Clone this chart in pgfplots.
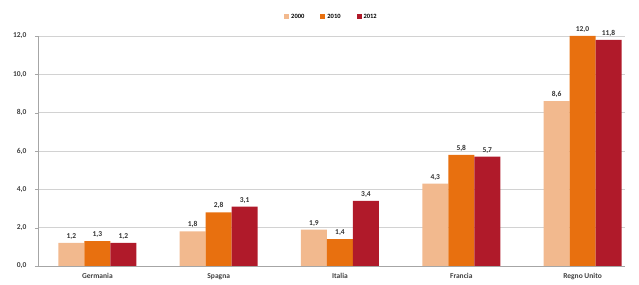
\documentclass[border=0pt]{standalone}
\usepackage{pgfplots}
\pgfplotsset{compat=1.18}
\usepackage{fontspec}
\setmainfont{Carlito}
\definecolor{cA}{HTML}{F2B98E}
\definecolor{cB}{HTML}{E8700F}
\definecolor{cC}{HTML}{B01A2A}
\begin{document}
\begin{tikzpicture}
\begin{axis}[
  name=ax,
  scale only axis, width=587pt, height=230pt,
  ybar=0pt, bar width=26pt,
  xmin=-0.49, xmax=4.35, ymin=0, ymax=12,
  xtick={0,1,2,3,4},
  xticklabels={Germania,Spagna,Italia,Francia,Regno Unito},
  ytick={0,2,4,6,8,10,12},
  axis x line*=bottom, axis y line*=left,
  x axis line style={draw=gray!70}, y axis line style={draw=gray!70},
  ymajorgrids, grid style={gray!35},
  major x tick style={draw=none},
  major y tick style={gray!70}, tick align=outside, major tick length=3pt,
  tick label style={font=\fontsize{7.5}{8}\selectfont\bfseries, text=black!75},
  yticklabel style={xshift=-5pt, /pgf/number format/.cd, fixed, fixed zerofill, precision=1, use comma},
  xticklabel style={yshift=-1pt},
  /pgf/number format/assume math mode=true,
  nodes near coords,
  nodes near coords style={font=\fontsize{7.5}{8}\selectfont\bfseries, text=black!80,
    /pgf/number format/.cd, fixed, fixed zerofill, precision=1, use comma},
  legend style={at={(0.5,1)}, anchor=south, yshift=12pt, draw=none, fill=none,
    font=\fontsize{6.5}{7}\selectfont\bfseries, legend columns=3,
    /tikz/every even column/.append style={column sep=14pt}},
  legend image code/.code={\fill[#1] (0pt,-2pt) rectangle (5pt,3pt);},
]
\addplot[draw=none, fill=cA] coordinates {(0,1.2) (1,1.8) (2,1.9) (3,4.3) (4,8.6)};
\addplot[draw=none, fill=cB] coordinates {(0,1.3) (1,2.8) (2,1.4) (3,5.8) (4,12.0)};
\addplot[draw=none, fill=cC] coordinates {(0,1.2) (1,3.1) (2,3.4) (3,5.7) (4,11.8)};
\legend{2000,2010,2012}
\end{axis}
\path ([xshift=14pt,yshift=36pt]ax.north east) -- ([xshift=-38pt,yshift=-19pt]ax.south west);
\end{tikzpicture}
\end{document}
